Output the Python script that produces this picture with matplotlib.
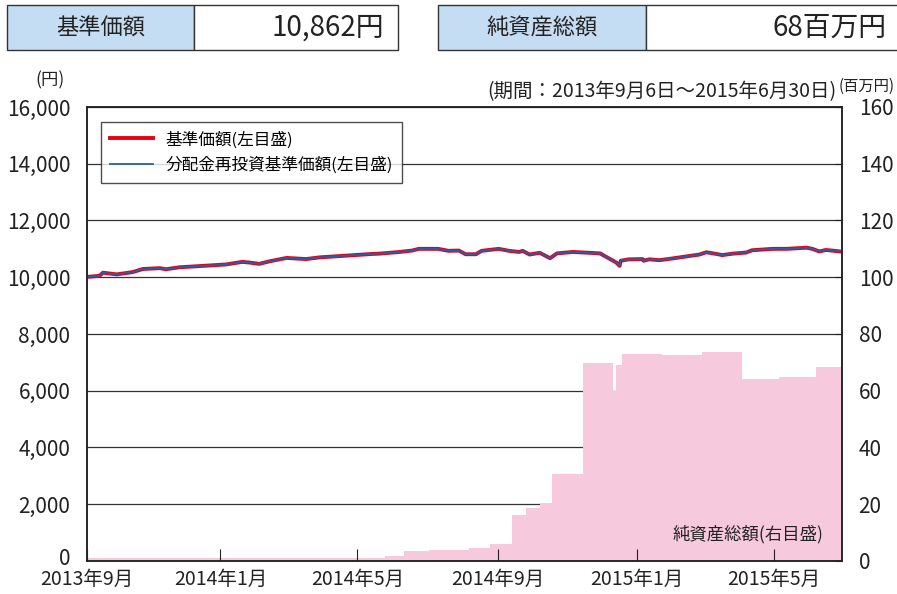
import pandas as pd
import matplotlib.pyplot as plt
from matplotlib.patches import Rectangle
from matplotlib.ticker import FuncFormatter
from matplotlib.transforms import ScaledTranslation

plt.rcParams['font.family'] = ['Noto Sans CJK JP', 'DejaVu Sans']

# 基準価額（円）
nav_dates = [
    '2013-09-06', '2013-09-17', '2013-09-20', '2013-10-02', '2013-10-16', '2013-10-25',
    '2013-11-09', '2013-11-14', '2013-11-26', '2013-12-25', '2014-01-06', '2014-01-20',
    '2014-01-26', '2014-02-04', '2014-02-13', '2014-02-28', '2014-03-17', '2014-03-29',
    '2014-04-21', '2014-05-14', '2014-05-20', '2014-06-07', '2014-06-18', '2014-06-24',
    '2014-07-11', '2014-07-20', '2014-07-29', '2014-08-04', '2014-08-13', '2014-08-18',
    '2014-09-02', '2014-09-11', '2014-09-20', '2014-09-23', '2014-09-29', '2014-10-08',
    '2014-10-17', '2014-10-23', '2014-11-06', '2014-11-21', '2014-11-30', '2014-12-02',
    '2014-12-14', '2014-12-17', '2014-12-18', '2014-12-25', '2015-01-06', '2015-01-07',
    '2015-01-12', '2015-01-21', '2015-02-01', '2015-02-13', '2015-02-25', '2015-03-03',
    '2015-03-12', '2015-03-17', '2015-03-26', '2015-04-07', '2015-04-12', '2015-04-30',
    '2015-05-12', '2015-05-30', '2015-06-04', '2015-06-10', '2015-06-16', '2015-06-21',
    '2015-06-30',
]
nav = [
    10010, 10050, 10160, 10100, 10180, 10290,
    10320, 10280, 10350, 10420, 10450, 10540,
    10520, 10470, 10560, 10680, 10640, 10700,
    10760, 10820, 10830, 10890, 10940, 11000,
    11000, 10930, 10940, 10810, 10810, 10930,
    11000, 10930, 10890, 10930, 10800, 10860,
    10670, 10840, 10890, 10860, 10840, 10790,
    10520, 10400, 10580, 10630, 10640, 10580,
    10630, 10600, 10660, 10730, 10800, 10880,
    10820, 10780, 10830, 10870, 10950, 11000,
    11000, 11040, 11000, 10910, 10960, 10940,
    10900,
]
# 分配金再投資基準価額（分配なしのため同値）
nav_reinvest = list(nav)

# 純資産総額（百万円）
asset_dates = [
    '2013-09-06', '2014-05-25', '2014-06-11', '2014-07-03', '2014-08-07', '2014-08-25',
    '2014-09-14', '2014-09-26', '2014-10-08', '2014-10-19', '2014-11-15', '2014-12-11',
    '2014-12-14', '2014-12-19', '2015-01-23', '2015-02-27', '2015-04-03', '2015-05-06',
    '2015-06-07', '2015-06-30',
]
assets = [
    1.2, 1.8, 3.5, 3.9, 4.6, 6.0,
    16.2, 18.6, 20.3, 30.7, 69.7, 60.0,
    69.1, 72.8, 72.5, 73.8, 64.1, 65.0,
    68.3, 68.5,
]

tick_dates = ['2013-09-06', '2014-01-01', '2014-05-01', '2014-09-01', '2015-01-01', '2015-05-01']
tick_labels = ['2013年9月', '2014年1月', '2014年5月', '2014年9月', '2015年1月', '2015年5月']

nav_x = pd.to_datetime(nav_dates)
asset_x = pd.to_datetime(asset_dates)

fig = plt.figure(figsize=(8.97, 5.94), dpi=100)
ax = fig.add_axes([0.097, 0.0556, 0.8417, 0.7643])
ax2 = ax.twinx()

# 右軸: グリッドと純資産総額
ax2.set_ylim(0, 160)
ax2.set_yticks(range(0, 161, 20))
ax2.set_axisbelow(True)
ax2.yaxis.grid(True, color='#333333', linewidth=0.9)
ax2.fill_between(asset_x, assets, 0, step='post', color='#f7c9dd', linewidth=0, zorder=1)
ax2.tick_params(axis='y', direction='in', length=5, labelsize=15, pad=12, colors='#222222')

# 左軸: 基準価額
ax.set_zorder(ax2.get_zorder() + 1)
ax.patch.set_visible(False)
ax.plot(nav_x, nav, color='#e60012', linewidth=2.8, label='基準価額(左目盛)')
ax.plot(nav_x, nav_reinvest, color='#2a5caa', linewidth=1.3, label='分配金再投資基準価額(左目盛)')
ax.set_ylim(0, 16000)
ax.set_yticks(range(0, 16001, 2000))
ax.yaxis.set_major_formatter(FuncFormatter(lambda v, p: f'{int(v):,}'))
ax.set_xlim(pd.Timestamp('2013-09-06'), pd.Timestamp('2015-06-30'))
ax.set_xticks(pd.to_datetime(tick_dates))
ax.set_xticklabels(tick_labels)
ax.tick_params(axis='x', direction='in', length=9, labelsize=14, pad=6, colors='#222222')
ax.tick_params(axis='y', direction='in', length=0, labelsize=15, pad=12, colors='#222222')

# 「0」のラベルを少し上げて日付ラベルと重ならないようにする
zero_label = ax.yaxis.get_major_ticks()[0].label1
zero_label.set_transform(zero_label.get_transform() + ScaledTranslation(0, 3 / 72, fig.dpi_scale_trans))

for a in (ax, ax2):
    for s in a.spines.values():
        s.set_color('#222222')
        s.set_linewidth(1.1)

leg = ax.legend(loc='upper left', bbox_to_anchor=(0.0185, 0.967), borderaxespad=0, fontsize=12,
                frameon=True, fancybox=False, edgecolor='#222222', borderpad=0.55,
                handlelength=2.6, handletextpad=0.7, labelspacing=0.5)
leg.get_frame().set_linewidth(1.0)

ax2.text(0.975, 0.058, '純資産総額(右目盛)', transform=ax2.transAxes, ha='right',
         va='center', fontsize=12.5, color='#222222', zorder=3)

# 軸の単位と期間
fig.text(50 / 897, 1 - 80 / 594, '(円)', ha='center', va='center', fontsize=12.5, color='#222222')
fig.text(836 / 897, 1 - 92 / 594, '(期間：2013年9月6日～2015年6月30日)', ha='right',
         va='center', fontsize=14, color='#222222')
fig.text(895 / 897, 1 - 86 / 594, '(百万円)', ha='right', va='center', fontsize=11, color='#222222')

# 上部の表
def cell(x0, x1, text, bg, ha, size):
    r = Rectangle((x0 / 897, 1 - 50 / 594), (x1 - x0) / 897, 45 / 594, transform=fig.transFigure,
                  facecolor=bg, edgecolor='#333333', linewidth=1.0)
    fig.add_artist(r)
    if ha == 'center':
        tx = (x0 + x1) / 2 / 897
    else:
        tx = (x1 - 14) / 897
    fig.text(tx, 1 - 28 / 594, text, ha=ha, va='center', fontsize=size, color='#222222')

cell(7, 194, '基準価額', '#c5ddf2', 'center', 16)
cell(194, 398, '10,862円', 'white', 'right', 20)
cell(438, 646, '純資産総額', '#c5ddf2', 'center', 16)
cell(646, 900, '68百万円', 'white', 'right', 20)

fig.savefig('out.png', dpi=100)
